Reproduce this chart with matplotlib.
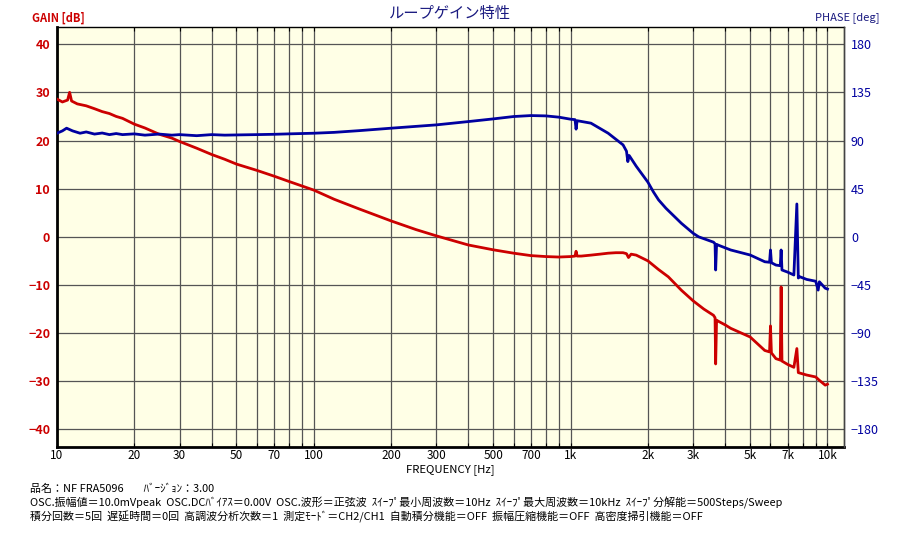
import matplotlib
matplotlib.use('Agg')
import matplotlib.pyplot as plt
from matplotlib.ticker import FixedLocator, NullLocator

plt.rcParams['font.family'] = ['Noto Sans CJK JP', 'DejaVu Sans']

# 周波数 [Hz] とゲイン [dB]
gain_freq = [10, 10.5, 11.0, 11.2, 11.4, 12, 13, 14, 15, 16, 17, 18, 20, 22, 25, 28, 30,
             35, 40, 45, 50, 60, 70, 80, 100, 120, 150, 200, 250, 300, 400, 500, 600,
             700, 800, 900, 1000, 1040, 1050, 1060, 1100, 1200, 1300, 1400, 1500, 1600,
             1650, 1680, 1720, 1800, 2000, 2200, 2400, 2700, 3000, 3300, 3600, 3650,
             3670, 3700, 3750, 4000, 4200, 5000, 5700, 5950, 6000, 6050, 6300, 6550,
             6600, 6650, 7000, 7400, 7600, 7700, 8300, 9000, 9300, 9800, 10000]
gain_db = [28.6, 28.0, 28.4, 30.0, 28.2, 27.6, 27.2, 26.6, 26.0, 25.6, 25.0, 24.6, 23.4,
           22.6, 21.3, 20.5, 19.8, 18.4, 17.1, 16.1, 15.1, 13.8, 12.6, 11.5, 9.7, 7.8,
           5.8, 3.3, 1.5, 0.2, -1.7, -2.7, -3.4, -3.9, -4.1, -4.2, -4.1, -4.0, -3.0,
           -4.0, -4.0, -3.8, -3.6, -3.4, -3.3, -3.3, -3.5, -4.3, -3.6, -3.8, -5.0, -6.8,
           -8.3, -11.1, -13.3, -15.0, -16.3, -16.8, -26.4, -17.3, -17.5, -18.3, -19.0,
           -20.8, -23.6, -23.9, -18.5, -24.1, -25.3, -25.6, -10.4, -25.8, -26.5, -27.1,
           -23.2, -28.2, -28.7, -29.1, -29.8, -30.8, -30.6]

# 周波数 [Hz] と位相 [deg]
phase_freq = [10, 10.5, 10.9, 11.5, 12.3, 13, 14, 15, 16, 17, 18, 20, 22, 25, 28, 30, 35,
              40, 45, 50, 60, 70, 80, 100, 120, 150, 200, 300, 400, 500, 600, 700, 800,
              900, 1000, 1040, 1050, 1060, 1200, 1400, 1600, 1650, 1670, 1690, 1800,
              2000, 2100, 2200, 2350, 2700, 3000, 3150, 3600, 3650, 3670, 3700, 3750, 4200,
              5000, 5700, 5950, 6000, 6050, 6300, 6550, 6600, 6650, 7000, 7400, 7600,
              7700, 7800, 8300, 9000, 9200, 9300, 9800, 10000]
phase_deg = [96.8, 99.0, 101.5, 99.0, 96.8, 98.0, 96.0, 97.0, 95.5, 96.5, 95.5, 96.2,
             95.0, 96.0, 95.0, 95.5, 94.5, 95.5, 95.0, 95.2, 95.5, 95.8, 96.2, 96.8, 97.6,
             99.2, 101.5, 104.6, 107.7, 110.2, 112.4, 113.3, 113.0, 111.8, 109.9, 109.5,
             100.6, 108.5, 106.2, 96.8, 85.9, 80.0, 70.3, 76.0, 66.0, 51.0, 42.0, 34.5, 26.7,
             12.6, 3.3, 0.0, -5.0, -6.5, -31.0, -7.0, -7.7, -12.3, -17.0, -23.3, -23.8,
             -12.3, -24.2, -26.4, -27.0, -12.3, -31.0, -33.0, -35.7, 30.7, -38.5, -37.3,
             -39.8, -41.5, -49.8, -42.0, -48.0, -48.8]

xtick_vals = [10, 20, 30, 50, 70, 100, 200, 300, 500, 700, 1000, 2000, 3000, 5000, 7000, 10000]
xtick_text = ['10', '20', '30', '50', '70', '100', '200', '300', '500', '700',
              '1k', '2k', '3k', '5k', '7k', '10k']
gain_ticks = [40, 30, 20, 10, 0, -10, -20, -30, -40]
phase_ticks = [180, 135, 90, 45, 0, -45, -90, -135, -180]

info_lines = [
    '品名：NF FRA5096        ﾊﾞｰｼﾞｮﾝ：3.00',
    'OSC.振幅値＝10.0mVpeak  OSC.DCﾊﾞｲｱｽ＝0.00V  OSC.波形＝正弦波  ｽｲｰﾌﾟ最小周波数＝10Hz  '
    'ｽｲｰﾌﾟ最大周波数＝10kHz  ｽｲｰﾌﾟ分解能＝500Steps/Sweep',
    '積分回数＝5回  遅延時間＝0回  高調波分析次数＝1  測定ﾓｰﾄﾞ＝CH2/CH1  自動積分機能＝OFF  '
    '振幅圧縮機能＝OFF  高密度掃引機能＝OFF',
]

RED = '#cc0000'
BLUE = '#0000a0'
NAVY = '#1a1a80'

fig = plt.figure(figsize=(9, 5.37), dpi=100)
ax = fig.add_axes([0.0633, 0.168, 0.8745, 0.782])
ax.set_facecolor('#ffffe6')
ax2 = ax.twinx()

ax.semilogx(gain_freq, gain_db, color=RED, lw=2.0, zorder=3)
ax2.semilogx(phase_freq, phase_deg, color=BLUE, lw=2.0, zorder=3)

ax.set_xlim(10, 11600)
ax.set_ylim(-43.6, 43.6)
ax2.set_ylim(-196.2, 196.2)

grid_x = [m * 10 ** d for d in range(1, 5) for m in range(1, 10)]
grid_x = [g for g in grid_x if g <= 10000]
ax.xaxis.set_major_locator(FixedLocator(grid_x))
ax.xaxis.set_minor_locator(NullLocator())
ax.set_xticklabels([xtick_text[xtick_vals.index(g)] if g in xtick_vals else '' for g in grid_x])
ax.set_yticks(gain_ticks)
ax2.set_yticks(phase_ticks)

ax.grid(True, color='#555555', lw=0.9, zorder=1)
ax.set_axisbelow(True)

ax.tick_params(axis='x', which='both', direction='in', length=3, top=True,
               labelsize=8.5, pad=1.5, color='black')
ax.tick_params(axis='y', length=0, labelsize=9, labelcolor=RED, pad=5)
ax2.tick_params(axis='y', length=0, labelsize=9, labelcolor=BLUE, pad=5)
for lab in ax.get_yticklabels():
    lab.set_fontweight('bold')

ax.spines['left'].set_linewidth(2.0)
ax.spines['bottom'].set_linewidth(2.0)
ax.spines['top'].set_linewidth(1.0)
for a in (ax, ax2):
    a.spines['right'].set_linewidth(1.0)
    a.spines['right'].set_color('#444444')
ax2.spines['left'].set_visible(False)
ax2.spines['bottom'].set_visible(False)
ax2.spines['top'].set_visible(False)

fig.text(0.5, 0.975, 'ループゲイン特性', ha='center', va='center', fontsize=11, color=NAVY)
fig.text(0.036, 0.967, 'GAIN [dB]', ha='left', va='center', fontsize=8, color=RED,
         fontweight='bold')
fig.text(0.906, 0.967, 'PHASE [deg]', ha='left', va='center', fontsize=8, color=NAVY)
fig.text(0.5, 0.126, 'FREQUENCY [Hz]', ha='center', va='center', fontsize=8.2)

for i, line in enumerate(info_lines):
    fig.text(0.033, 0.089 - i * 0.0255, line, ha='left', va='center', fontsize=7.9)

fig.savefig('out.png', dpi=100)
